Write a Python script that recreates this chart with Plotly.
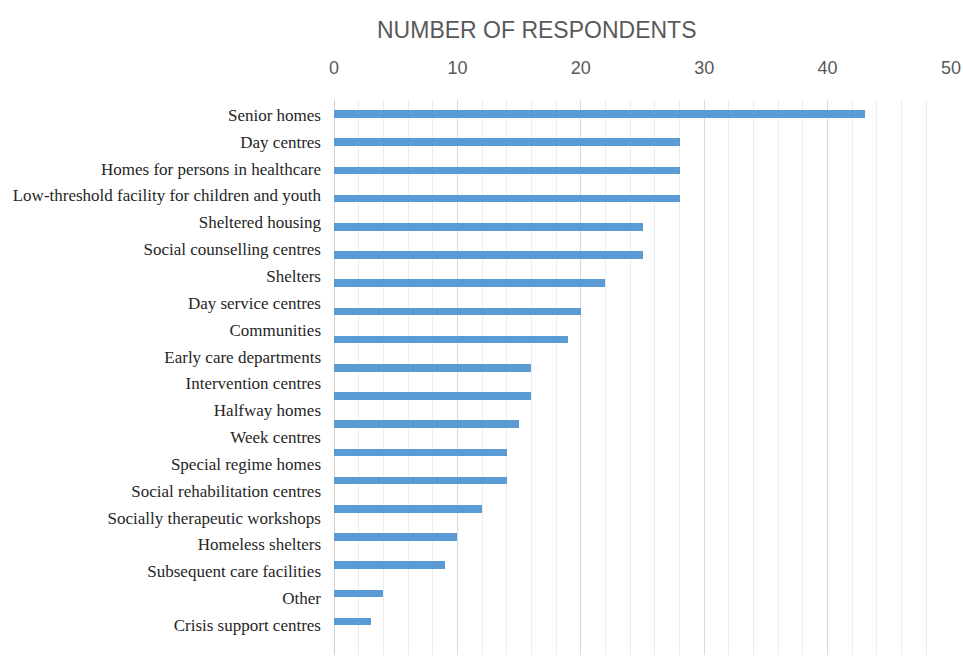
import plotly.graph_objects as go

# Service types listed down the left side (top to bottom)
categories = [
    "Senior homes",
    "Day centres",
    "Homes for persons in healthcare",
    "Low-threshold facility for children and youth",
    "Sheltered housing",
    "Social counselling centres",
    "Shelters",
    "Day service centres",
    "Communities",
    "Early care departments",
    "Intervention centres",
    "Halfway homes",
    "Week centres",
    "Special regime homes",
    "Social rehabilitation centres",
    "Socially therapeutic workshops",
    "Homeless shelters",
    "Subsequent care facilities",
    "Other",
    "Crisis support centres",
]

# Bar lengths (number of respondents), top to bottom
bar_values = [43, 28, 28, 28, 25, 25, 22, 20, 19, 16, 16, 15, 14, 14, 12, 10, 9, 4, 3]

x_ticks = [0, 10, 20, 30, 40, 50]

BLUE = "#5B9BD5"
TEXT = "#262626"
GREY_TEXT = "#595959"

fig = go.Figure()

fig.add_trace(go.Bar(
    x=bar_values,
    y=list(range(len(bar_values))),
    orientation="h",
    width=0.27,
    marker=dict(color=BLUE, line=dict(width=0)),
    yaxis="y",
    hoverinfo="x",
    showlegend=False,
))

# invisible trace carrying the category labels on a second y axis
fig.add_trace(go.Scatter(
    x=[0] * len(categories),
    y=list(range(len(categories))),
    mode="markers",
    marker=dict(opacity=0),
    yaxis="y2",
    hoverinfo="skip",
    showlegend=False,
))

fig.update_layout(
    width=963,
    height=657,
    margin=dict(l=334, r=12, t=100, b=2),
    paper_bgcolor="white",
    plot_bgcolor="white",
    bargap=0,
    xaxis=dict(
        side="top",
        range=[0, 50],
        tickvals=x_ticks,
        ticktext=[str(v) for v in x_ticks],
        tickfont=dict(family="Liberation Sans", size=18, color=GREY_TEXT),
        ticks="",
        ticklabelstandoff=21,
        showgrid=True,
        gridcolor="#D9D9D9",
        gridwidth=1.3,
        minor=dict(dtick=2, showgrid=True, gridcolor="#ECECEC", gridwidth=1.3),
        zeroline=True,
        zerolinecolor="#D0D0D0",
        zerolinewidth=1.3,
        showline=False,
        fixedrange=True,
    ),
    yaxis=dict(
        range=[19.185, -0.496],
        showticklabels=False,
        showgrid=False,
        zeroline=False,
        ticks="",
    ),
    yaxis2=dict(
        overlaying="y",
        side="left",
        range=[20.12, -0.559],
        tickvals=list(range(len(categories))),
        ticktext=categories,
        tickfont=dict(family="Liberation Serif", size=17, color=TEXT),
        ticks="",
        ticklabelstandoff=12,
        showgrid=False,
        zeroline=False,
    ),
    annotations=[
        dict(
            text="NUMBER OF RESPONDENTS",
            xref="paper", yref="paper",
            x=0.329, y=1.126,
            xanchor="center", yanchor="middle",
            showarrow=False,
            font=dict(family="Liberation Sans", size=23, color=GREY_TEXT),
        )
    ],
)

fig.write_html("out.html")
